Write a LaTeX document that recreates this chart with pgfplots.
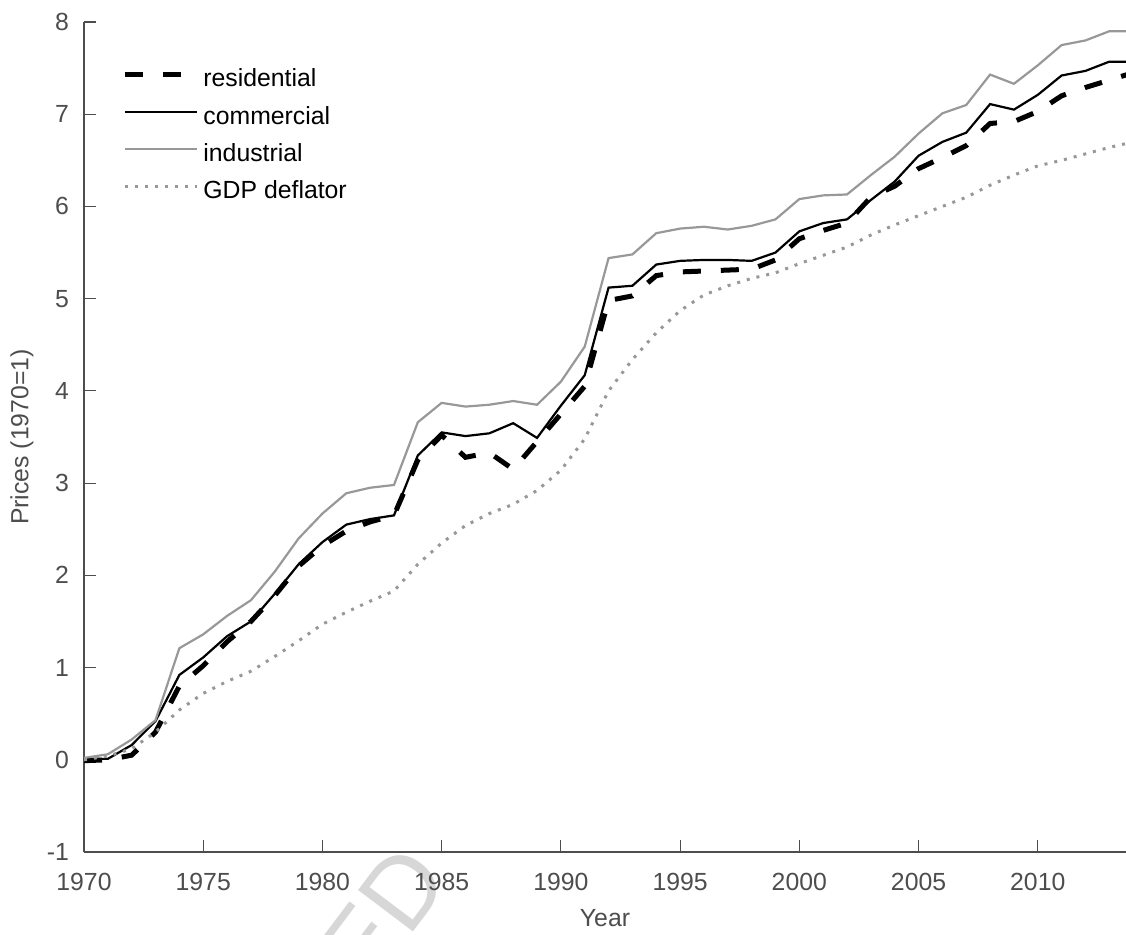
\documentclass[border=0pt]{standalone}
\usepackage{fontspec}
\setmainfont{Liberation Sans}
\usepackage{pgfplots}
\usepackage{pgfplotstable}
\pgfplotsset{compat=1.18}
\definecolor{axgray}{RGB}{77,77,77}
\definecolor{lgray}{RGB}{152,152,152}
\definecolor{wmgray}{RGB}{215,215,215}

\pgfplotstableread{
year res com ind gdp
1970 -0.01 0.01 0.02 0.00
1971 0.00 0.01 0.06 0.04
1972 0.05 0.16 0.22 0.12
1973 0.30 0.42 0.43 0.30
1974 0.80 0.92 1.21 0.54
1975 1.02 1.11 1.36 0.72
1976 1.28 1.34 1.56 0.85
1977 1.50 1.50 1.73 0.96
1978 1.78 1.80 2.04 1.12
1979 2.10 2.12 2.40 1.29
1980 2.32 2.36 2.67 1.47
1981 2.48 2.55 2.89 1.60
1982 2.58 2.61 2.95 1.72
1983 2.65 2.65 2.98 1.83
1984 3.25 3.30 3.66 2.12
1985 3.52 3.55 3.87 2.35
1986 3.28 3.51 3.83 2.54
1987 3.33 3.54 3.85 2.67
1988 3.15 3.65 3.89 2.77
1989 3.45 3.49 3.85 2.92
1990 3.75 3.84 4.10 3.14
1991 4.05 4.17 4.48 3.48
1992 4.98 5.12 5.44 4.00
1993 5.03 5.14 5.48 4.34
1994 5.25 5.37 5.71 4.63
1995 5.29 5.41 5.76 4.87
1996 5.30 5.42 5.78 5.04
1997 5.31 5.42 5.75 5.14
1998 5.32 5.41 5.79 5.22
1999 5.42 5.50 5.86 5.28
2000 5.65 5.73 6.08 5.38
2001 5.74 5.82 6.12 5.47
2002 5.82 5.86 6.13 5.56
2003 6.10 6.07 6.34 5.69
2004 6.22 6.27 6.54 5.80
2005 6.41 6.55 6.79 5.90
2006 6.53 6.70 7.01 6.00
2007 6.66 6.80 7.10 6.10
2008 6.90 7.11 7.43 6.23
2009 6.92 7.05 7.33 6.34
2010 7.03 7.21 7.53 6.44
2011 7.20 7.42 7.75 6.50
2012 7.29 7.47 7.80 6.57
2013 7.37 7.57 7.90 6.64
2014 7.45 7.57 7.90 6.70
}\datatable

\begin{document}
\begin{tikzpicture}
\useasboundingbox (-42pt,-41pt) rectangle (521pt,426pt);
\node[rotate=53, text=wmgray, font=\fontsize{50}{50}\selectfont, anchor=base east, inner sep=0pt] at (184pt,-14pt) {ACCEPTED};
\begin{axis}[
  at={(0,0)}, anchor=south west,
  scale only axis, width=521pt, height=415pt,
  xmin=1970, xmax=2013.7, ymin=-1, ymax=8,
  axis x line*=bottom, axis y line*=left,
  axis line style={axgray, line width=0.6pt, -},
  tick align=inside,
  major tick length=6pt,
  tick style={axgray, line width=0.6pt},
  xtick={1970,1975,...,2010},
  ytick={-1,0,...,8},
  ticklabel style={font=\fontsize{12.4}{14.9}\selectfont, text=axgray},
  /pgf/number format/assume math mode=true,
  xticklabel style={/pgf/number format/1000 sep={}, yshift=-7pt},
  yticklabel style={xshift=-4pt},
  xlabel={Year},
  ylabel={Prices (1970=1)},
  label style={font=\fontsize{12.4}{14.9}\selectfont, text=axgray},
  xlabel style={at={(axis description cs:0.5,-0.0795)}, anchor=center},
  ylabel style={at={(axis description cs:-0.0595,0.5)}, anchor=center},
  legend cell align=left,
  legend image code/.code={\draw[#1] (0pt,3.3pt) -- (36pt,3.3pt);},
  legend style={draw=none, fill=none, at={(axis description cs:0.0365,0.9439)}, anchor=north west,
    inner sep=0pt, row sep=6.65pt, font=\fontsize{12.4}{14.9}\selectfont,
    nodes={inner sep=0pt, text height=9pt, text depth=3pt},
    /tikz/every odd column/.append style={column sep=2pt}},
]
\addplot[black, line width=2.5pt, dash pattern=on 9pt off 10pt] table[x=year, y=res] {\datatable};
\addlegendentry{residential}
\addplot[black, line width=1.1pt] table[x=year, y=com] {\datatable};
\addlegendentry{commercial}
\addplot[lgray, line width=1.1pt] table[x=year, y=ind] {\datatable};
\addlegendentry{industrial}
\addplot[lgray, line width=1.5pt, dash pattern=on 1.5pt off 3.5pt] table[x=year, y=gdp] {\datatable};
\addlegendentry{GDP deflator}
\end{axis}
\end{tikzpicture}
\end{document}
